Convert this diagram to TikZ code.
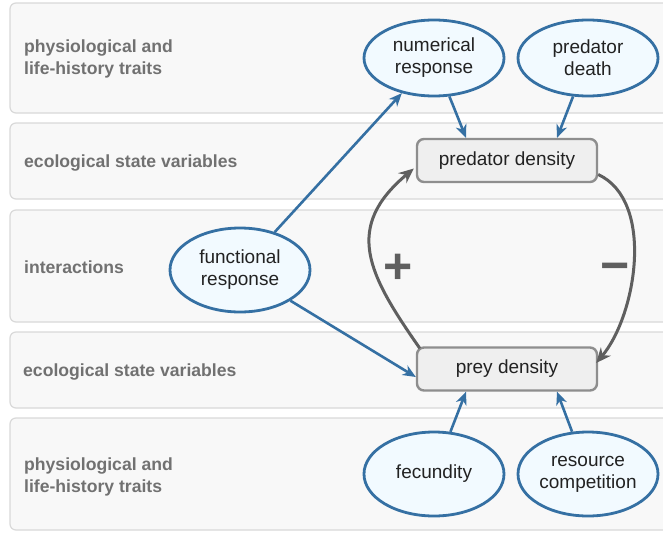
\documentclass[tikz,border=0pt]{standalone}
\usepackage{fontspec}
\setmainfont{Liberation Sans}
\usetikzlibrary{shapes.geometric,arrows.meta}
\definecolor{bandfill}{HTML}{F8F8F8}
\definecolor{banddraw}{HTML}{D9D9D9}
\definecolor{labgray}{HTML}{717171}
\definecolor{blueline}{HTML}{3570A3}
\definecolor{bluefill}{HTML}{F2FAFF}
\definecolor{boxfill}{HTML}{EFEFEF}
\definecolor{boxdraw}{HTML}{8E8E8E}
\definecolor{arcgray}{HTML}{5F5F5F}
\definecolor{nodetext}{HTML}{222222}
\tikzset{
  band/.style={fill=bandfill, draw=banddraw, line width=1.2pt, rounded corners=6pt},
  bandlabel/.style={anchor=west, align=left, text=labgray, font=\fontsize{17.6}{22}\selectfont\bfseries, inner sep=0pt},
  trait/.style={ellipse, draw=blueline, fill=bluefill, line width=2.8pt, minimum width=140pt, align=center, text=nodetext, font=\fontsize{19}{22}\selectfont, inner sep=0pt},
  statebox/.style={rectangle, rounded corners=7pt, draw=boxdraw, fill=boxfill, line width=2.4pt, minimum width=180pt, minimum height=43pt, text=nodetext, font=\fontsize{19}{22}\selectfont, inner sep=0pt},
  bluearrow/.style={draw=blueline, line width=2.6pt, -{Stealth[length=13pt, width=11pt, inset=4pt]}},
  grayarrow/.style={draw=arcgray, line width=3pt, -{Stealth[length=15pt, width=13pt, inset=5pt]}},
  signlabel/.style={text=arcgray, font=\fontsize{50}{50}\selectfont\bfseries, inner sep=0pt}
}
\begin{document}
\begin{tikzpicture}[x=1pt, y=-1pt]
\useasboundingbox (0,0) rectangle (663,533);
\clip (0,0) rectangle (663,533);
\fill[white] (0,0) rectangle (663,533);
% bands
\draw[band] (10,3) rectangle (700,113);
\draw[band] (10,123) rectangle (700,199);
\draw[band] (10,210) rectangle (700,322);
\draw[band] (10,332) rectangle (700,408);
\draw[band] (10,418) rectangle (700,530);
% band labels
\node[bandlabel] (l1) at (24,58.5) {physiological and\\life-history traits};
\node[bandlabel] (l2) at (24,162.5) {ecological state variables};
\node[bandlabel] (l3) at (24,267.5) {interactions};
\node[bandlabel] (l4) at (23,371.5) {ecological state variables};
\node[bandlabel] (l5) at (24,476.5) {physiological and\\life-history traits};
% nodes
\node[trait, minimum height=76pt] (nr) at (434,58) {numerical\\response};
\node[trait, minimum height=76pt] (pdth) at (588,58) {predator\\death};
\node[statebox] (pd) at (507,160.5) {predator density};
\node[trait, minimum height=84pt] (fr) at (240,270) {functional\\response};
\node[statebox] (py) at (507,369) {prey density};
\node[trait, minimum height=84pt] (fec) at (434,474) {fecundity};
\node[trait, minimum height=84pt] (rc) at (588,474) {resource\\competition};
% signs
\node[signlabel] (plus) at (398,268.5) {+};
\node[signlabel] (minus) at (615,273) {−};
% blue arrows
\draw[bluearrow] (fr) -- (nr);
\draw[bluearrow] (nr) -- ([xshift=-41pt]pd.north);
\draw[bluearrow] (pdth) -- ([xshift=50pt]pd.north);
\draw[bluearrow] (fr) -- ([yshift=-8pt]py.west);
\draw[bluearrow] (fec) -- ([xshift=-41pt]py.south);
\draw[bluearrow] (rc) -- ([xshift=50pt]py.south);
% gray arcs
\draw[grayarrow] ([xshift=4pt,yshift=-2pt]py.north west) to[out=125, in=220, looseness=1.3] ([xshift=-2pt,yshift=-8pt]pd.west);
\draw[grayarrow] ([yshift=-14pt]pd.east) to[out=-25, in=50, looseness=0.85] ([xshift=-2pt,yshift=6pt]py.east);
\end{tikzpicture}
\end{document}
